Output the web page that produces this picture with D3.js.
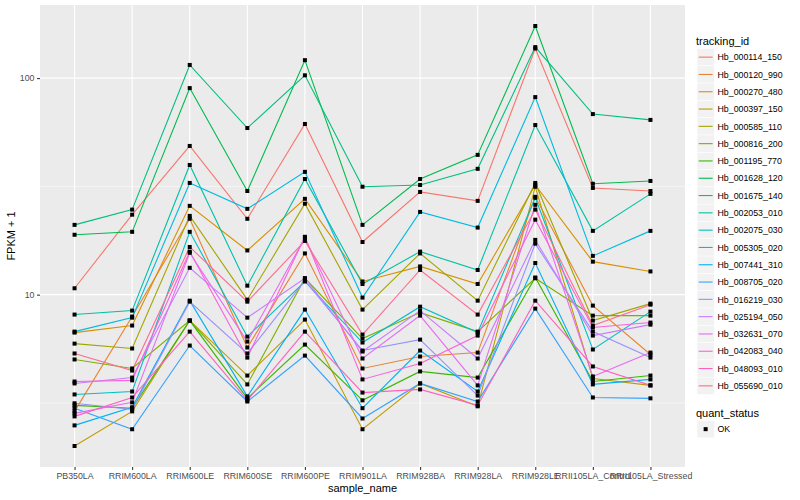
<!DOCTYPE html>
<html>
<head>
<meta charset="utf-8">
<script src="https://cdn.jsdelivr.net/npm/d3@7"></script>
<style>
  body { margin: 0; background: #fff; }
  text { font-family: "Liberation Sans", Arial, Helvetica, sans-serif; }
</style>
</head>
<body>
<svg id="chart" width="800" height="500"></svg>
<script>
const samples = ['PB350LA', 'RRIM600LA', 'RRIM600LE', 'RRIM600SE', 'RRIM600PE', 'RRIM901LA',
  'RRIM928BA', 'RRIM928LA', 'RRIM928LE', 'RRII105LA_Control', 'RRII105LA_Stressed'];

const trackingIds = ['Hb_000114_150', 'Hb_000120_990', 'Hb_000270_480', 'Hb_000397_150',
  'Hb_000585_110', 'Hb_000816_200', 'Hb_001195_770', 'Hb_001628_120', 'Hb_001675_140',
  'Hb_002053_010', 'Hb_002075_030', 'Hb_005305_020', 'Hb_007441_310', 'Hb_008705_020',
  'Hb_016219_030', 'Hb_025194_050', 'Hb_032631_070', 'Hb_042083_040', 'Hb_048093_010',
  'Hb_055690_010'];

// FPKM + 1, one array per tracking_id, in the order of samples
const hb_000114_150 = [10.7, 23.4, 48.6, 22.4, 61.4, 17.5, 29.8, 27.1, 137, 31.1, 30.1];
const hb_000120_990 = [2.89, 7.92, 22.4, 5.70, 15.5, 4.56, 5.18, 5.40, 28.3, 8.90, 5.29];
const hb_000270_480 = [6.68, 7.20, 25.7, 16.0, 27.7, 11.5, 13.5, 11.2, 32.1, 14.2, 12.8];
const hb_000397_150 = [2.00, 2.89, 7.59, 4.23, 7.67, 2.39, 3.89, 3.05, 31.5, 4.10, 3.81];
const hb_000585_110 = [5.94, 5.64, 23.1, 9.48, 26.3, 8.53, 15.5, 9.38, 32.8, 7.59, 9.09];
const hb_000816_200 = [5.02, 4.56, 7.59, 3.85, 11.9, 6.27, 8.26, 6.75, 11.9, 8.00, 8.00];
const hb_001195_770 = [3.08, 2.99, 7.59, 3.32, 5.88, 3.25, 4.42, 4.14, 12.0, 3.97, 4.23];
const hb_001628_120 = [18.9, 19.5, 89.9, 30.1, 121, 21.0, 34.2, 44.2, 174, 32.5, 33.5];
const hb_001675_140 = [21.0, 24.7, 115, 58.8, 103, 31.5, 32.1, 38.1, 139, 68.2, 64.1];
const hb_002053_010 = [8.09, 8.44, 39.7, 11.0, 34.2, 11.2, 15.8, 13.0, 60.7, 19.7, 29.2];
const hb_002075_030 = [3.46, 3.57, 19.5, 6.40, 11.5, 6.01, 8.80, 6.68, 28.0, 5.58, 8.35];
const hb_005305_020 = [6.75, 7.83, 32.8, 24.9, 36.9, 9.69, 24.1, 20.4, 81.7, 15.1, 19.7];
const hb_007441_310 = [2.49, 3.02, 9.38, 3.39, 8.53, 2.99, 5.52, 3.57, 14.0, 3.85, 4.06];
const hb_008705_020 = [2.99, 2.39, 5.82, 3.21, 5.23, 2.68, 3.89, 3.21, 8.62, 3.35, 3.32];
const hb_016219_030 = [3.15, 2.95, 9.28, 5.35, 11.6, 5.52, 6.20, 3.42, 17.2, 6.75, 5.12];
const hb_025194_050 = [3.89, 4.14, 13.3, 7.83, 11.9, 5.46, 8.44, 5.07, 17.9, 6.47, 7.27];
const hb_032631_070 = [2.83, 3.18, 15.6, 6.07, 18.3, 5.07, 8.00, 3.81, 26.0, 4.19, 5.40];
const hb_042083_040 = [3.97, 4.02, 15.8, 5.12, 18.5, 4.06, 4.81, 6.47, 22.2, 7.05, 7.43];
const hb_048093_010 = [2.74, 3.35, 6.75, 3.25, 6.75, 3.53, 3.65, 3.08, 9.38, 4.66, 3.81];
const hb_055690_010 = [5.35, 4.46, 16.6, 9.28, 17.7, 6.54, 13.0, 8.09, 24.7, 7.20, 8.99];

// ggplot hue palette for 20 levels
const palette = ['#F8766D', '#EA8331', '#D89000', '#C09B00', '#A3A500', '#7CAE00', '#39B600',
  '#00BB4E', '#00BF7D', '#00C1A3', '#00BFC4', '#00BAE0', '#00B0F6', '#35A2FF', '#9590FF',
  '#C77CFF', '#E76BF3', '#FA62DB', '#FF62BC', '#FF6C91'];

const yTicks = [10, 100];
const yMinor = [Math.pow(10, 0.5), Math.pow(10, 1.5)];

const series = [hb_000114_150, hb_000120_990, hb_000270_480, hb_000397_150, hb_000585_110,
  hb_000816_200, hb_001195_770, hb_001628_120, hb_001675_140, hb_002053_010, hb_002075_030,
  hb_005305_020, hb_007441_310, hb_008705_020, hb_016219_030, hb_025194_050, hb_032631_070,
  hb_042083_040, hb_048093_010, hb_055690_010]
  .map((values, i) => ({ id: trackingIds[i], color: palette[i], values }));

const svg = d3.select('#chart');
const panel = { left: 40, right: 685, top: 5, bottom: 467 };

const x = d3.scalePoint()
  .domain(samples)
  .range([panel.left, panel.right])
  .padding(0.6);

// log scale, expanded by 5% like ggplot
const allVals = series.flatMap(d => d.values);
const lo = Math.log10(d3.min(allVals));
const hi = Math.log10(d3.max(allVals));
const pad = (hi - lo) * 0.05;
const y = d3.scaleLog()
  .domain([Math.pow(10, lo - pad), Math.pow(10, hi + pad)])
  .range([panel.bottom, panel.top]);

// panel background + grid
svg.append('rect')
  .attr('x', panel.left).attr('y', panel.top)
  .attr('width', panel.right - panel.left).attr('height', panel.bottom - panel.top)
  .attr('fill', '#EBEBEB');

svg.append('g').selectAll('line').data(yMinor).join('line')
  .attr('x1', panel.left).attr('x2', panel.right)
  .attr('y1', d => y(d)).attr('y2', d => y(d))
  .attr('stroke', '#fff').attr('stroke-width', 0.55);

svg.append('g').selectAll('line').data(yTicks).join('line')
  .attr('x1', panel.left).attr('x2', panel.right)
  .attr('y1', d => y(d)).attr('y2', d => y(d))
  .attr('stroke', '#fff').attr('stroke-width', 1.1);

svg.append('g').selectAll('line').data(samples).join('line')
  .attr('x1', d => x(d)).attr('x2', d => x(d))
  .attr('y1', panel.top).attr('y2', panel.bottom)
  .attr('stroke', '#fff').attr('stroke-width', 1.1);

// lines
const line = d3.line()
  .x((d, i) => x(samples[i]))
  .y(d => y(d));

svg.append('g').selectAll('path').data(series).join('path')
  .attr('d', d => line(d.values))
  .attr('fill', 'none')
  .attr('stroke', d => d.color)
  .attr('stroke-width', 1.1);

// points (quant_status OK)
const pts = series.flatMap(s => s.values.map((v, i) => ({ sample: samples[i], v })));
svg.append('g').selectAll('rect').data(pts).join('rect')
  .attr('x', d => x(d.sample) - 2)
  .attr('y', d => y(d.v) - 2)
  .attr('width', 4).attr('height', 4)
  .attr('fill', '#000');

// axes
const yAxis = svg.append('g')
  .attr('transform', `translate(${panel.left},0)`)
  .call(d3.axisLeft(y).tickValues(yTicks).tickFormat(d3.format('d')).tickSize(3).tickPadding(2.5));
const xAxis = svg.append('g')
  .attr('transform', `translate(0,${panel.bottom})`)
  .call(d3.axisBottom(x).tickSize(3).tickPadding(3));

[yAxis, xAxis].forEach((ax) => {
  ax.select('.domain').remove();
  ax.selectAll('.tick line').attr('stroke', '#333333').attr('stroke-width', 1.07);
  ax.selectAll('.tick text')
    .attr('fill', '#4D4D4D')
    .style('font-size', '8.8px')
    .style('font-family', '"Liberation Sans", Arial, sans-serif');
});

// axis titles
svg.append('text')
  .attr('x', (panel.left + panel.right) / 2).attr('y', 492)
  .attr('text-anchor', 'middle')
  .style('font-size', '11px')
  .text('sample_name');

svg.append('text')
  .attr('transform', `translate(15,${(panel.top + panel.bottom) / 2}) rotate(-90)`)
  .attr('text-anchor', 'middle')
  .style('font-size', '11px')
  .text('FPKM + 1');

// legend
const legend = svg.append('g').attr('transform', 'translate(697,0)');
const keySize = 17.3;
const keyTop = 48.5;

legend.append('text')
  .attr('x', -1).attr('y', 44.5)
  .style('font-size', '11px')
  .text('tracking_id');

const keys = legend.selectAll('g.key').data(series).join('g')
  .attr('class', 'key')
  .attr('transform', (d, i) => `translate(0,${keyTop + i * keySize})`);

keys.append('rect')
  .attr('width', keySize).attr('height', keySize)
  .attr('fill', '#F2F2F2').attr('stroke', '#fff').attr('stroke-width', 0.5);

keys.append('line')
  .attr('x1', 1.7).attr('x2', keySize - 1.7)
  .attr('y1', keySize / 2).attr('y2', keySize / 2)
  .attr('stroke', d => d.color).attr('stroke-width', 1.1);

keys.append('text')
  .attr('x', 20.5).attr('y', keySize / 2 + 3.2)
  .style('font-size', '8.8px')
  .text(d => d.id);

const qsTop = 420.5;
legend.append('text')
  .attr('x', -1).attr('y', 417)
  .style('font-size', '11px')
  .text('quant_status');

legend.append('rect')
  .attr('y', qsTop)
  .attr('width', keySize).attr('height', keySize)
  .attr('fill', '#F2F2F2').attr('stroke', '#fff').attr('stroke-width', 0.5);

legend.append('rect')
  .attr('x', keySize / 2 - 2).attr('y', qsTop + keySize / 2 - 2)
  .attr('width', 4).attr('height', 4)
  .attr('fill', '#000');

legend.append('text')
  .attr('x', 20.5).attr('y', qsTop + keySize / 2 + 3.2)
  .style('font-size', '8.8px')
  .text('OK');
</script>
</body>
</html>
